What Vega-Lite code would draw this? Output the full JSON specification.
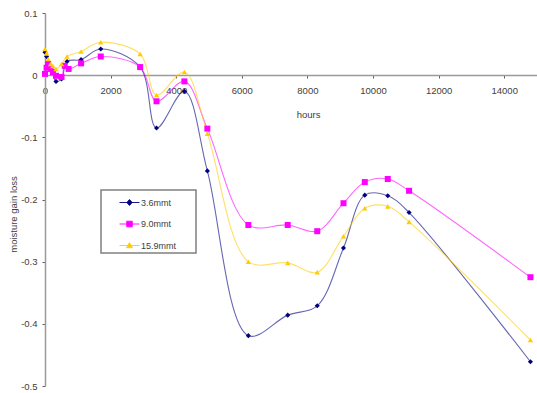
{
  "$schema": "https://vega.github.io/schema/vega-lite/v6.json",
  "width": 492,
  "height": 373,
  "autosize": {"type": "none"},
  "padding": {"left": 45, "top": 13, "right": 0, "bottom": 7},
  "background": "white",
  "config": {
    "view": {"stroke": null},
    "font": "Liberation Sans",
    "axis": {"grid": false, "labelFont": "Liberation Sans", "titleFont": "Liberation Sans", "labelColor": "#404040", "titleColor": "#404040", "labelFontSize": 9.5, "titleFontSize": 9.5, "titleFontWeight": "normal", "domainColor": "#9a9a9a", "domainWidth": 1.5, "tickColor": "#606060", "tickSize": 3, "tickWidth": 1}
  },
  "data": {
    "values": [
      {"series": "3.6mmt", "hours": 0, "gain": 0.037},
      {"series": "3.6mmt", "hours": 48, "gain": 0.030},
      {"series": "3.6mmt", "hours": 96, "gain": 0.021},
      {"series": "3.6mmt", "hours": 168, "gain": 0.012},
      {"series": "3.6mmt", "hours": 240, "gain": 0.004},
      {"series": "3.6mmt", "hours": 336, "gain": -0.010},
      {"series": "3.6mmt", "hours": 504, "gain": -0.006},
      {"series": "3.6mmt", "hours": 672, "gain": 0.022},
      {"series": "3.6mmt", "hours": 1100, "gain": 0.025},
      {"series": "3.6mmt", "hours": 1700, "gain": 0.042},
      {"series": "3.6mmt", "hours": 2900, "gain": 0.013},
      {"series": "3.6mmt", "hours": 3400, "gain": -0.085},
      {"series": "3.6mmt", "hours": 4250, "gain": -0.026},
      {"series": "3.6mmt", "hours": 4950, "gain": -0.154},
      {"series": "3.6mmt", "hours": 6200, "gain": -0.419},
      {"series": "3.6mmt", "hours": 7400, "gain": -0.386},
      {"series": "3.6mmt", "hours": 8300, "gain": -0.371},
      {"series": "3.6mmt", "hours": 9100, "gain": -0.278},
      {"series": "3.6mmt", "hours": 9750, "gain": -0.193},
      {"series": "3.6mmt", "hours": 10450, "gain": -0.194},
      {"series": "3.6mmt", "hours": 11100, "gain": -0.221},
      {"series": "3.6mmt", "hours": 14800, "gain": -0.461},
      {"series": "9.0mmt", "hours": 0, "gain": 0.002},
      {"series": "9.0mmt", "hours": 48, "gain": 0.012},
      {"series": "9.0mmt", "hours": 96, "gain": 0.018},
      {"series": "9.0mmt", "hours": 168, "gain": 0.010},
      {"series": "9.0mmt", "hours": 240, "gain": 0.005},
      {"series": "9.0mmt", "hours": 336, "gain": -0.001},
      {"series": "9.0mmt", "hours": 504, "gain": -0.003},
      {"series": "9.0mmt", "hours": 600, "gain": 0.015},
      {"series": "9.0mmt", "hours": 720, "gain": 0.010},
      {"series": "9.0mmt", "hours": 1100, "gain": 0.019},
      {"series": "9.0mmt", "hours": 1700, "gain": 0.030},
      {"series": "9.0mmt", "hours": 2900, "gain": 0.013},
      {"series": "9.0mmt", "hours": 3400, "gain": -0.042},
      {"series": "9.0mmt", "hours": 4250, "gain": -0.010},
      {"series": "9.0mmt", "hours": 4950, "gain": -0.086},
      {"series": "9.0mmt", "hours": 6200, "gain": -0.241},
      {"series": "9.0mmt", "hours": 7400, "gain": -0.241},
      {"series": "9.0mmt", "hours": 8300, "gain": -0.251},
      {"series": "9.0mmt", "hours": 9100, "gain": -0.206},
      {"series": "9.0mmt", "hours": 9750, "gain": -0.172},
      {"series": "9.0mmt", "hours": 10450, "gain": -0.167},
      {"series": "9.0mmt", "hours": 11100, "gain": -0.186},
      {"series": "9.0mmt", "hours": 14800, "gain": -0.325},
      {"series": "15.9mmt", "hours": 0, "gain": 0.042},
      {"series": "15.9mmt", "hours": 48, "gain": 0.035},
      {"series": "15.9mmt", "hours": 96, "gain": 0.026},
      {"series": "15.9mmt", "hours": 168, "gain": 0.018},
      {"series": "15.9mmt", "hours": 240, "gain": 0.015},
      {"series": "15.9mmt", "hours": 336, "gain": 0.010},
      {"series": "15.9mmt", "hours": 504, "gain": 0.018},
      {"series": "15.9mmt", "hours": 672, "gain": 0.030},
      {"series": "15.9mmt", "hours": 1100, "gain": 0.038},
      {"series": "15.9mmt", "hours": 1700, "gain": 0.053},
      {"series": "15.9mmt", "hours": 2900, "gain": 0.034},
      {"series": "15.9mmt", "hours": 3400, "gain": -0.032},
      {"series": "15.9mmt", "hours": 4250, "gain": 0.005},
      {"series": "15.9mmt", "hours": 4950, "gain": -0.094},
      {"series": "15.9mmt", "hours": 6200, "gain": -0.300},
      {"series": "15.9mmt", "hours": 7400, "gain": -0.302},
      {"series": "15.9mmt", "hours": 8300, "gain": -0.317},
      {"series": "15.9mmt", "hours": 9100, "gain": -0.259},
      {"series": "15.9mmt", "hours": 9750, "gain": -0.214},
      {"series": "15.9mmt", "hours": 10450, "gain": -0.211},
      {"series": "15.9mmt", "hours": 11100, "gain": -0.236},
      {"series": "15.9mmt", "hours": 14800, "gain": -0.426}
    ]
  },
  "encoding": {
    "x": {
      "field": "hours", "type": "quantitative",
      "scale": {"domain": [0, 15000], "nice": false, "zero": false},
      "axis": {"title": "hours", "offset": -311, "values": [0, 2000, 4000, 6000, 8000, 10000, 12000, 14000], "format": "d", "labelPadding": 7, "labelFlush": false, "titleX": 263, "titleY": 34, "titleBaseline": "top"}
    },
    "y": {
      "field": "gain", "type": "quantitative",
      "scale": {"domain": [-0.5, 0.1], "nice": false, "zero": false},
      "axis": {"title": "moisture gain loss", "values": [-0.5, -0.4, -0.3, -0.2, -0.1, 0, 0.1], "labelExpr": "datum.value == 0 ? '0' : toString(round(datum.value * 10) / 10)", "labelPadding": 5, "titleX": -32, "titleY": 201, "titleBaseline": "middle", "titleAngle": 270}
    },
    "color": {
      "field": "series", "type": "nominal",
      "scale": {"domain": ["3.6mmt", "9.0mmt", "15.9mmt"], "range": ["#000080", "#ff00ff", "#ffcc00"]},
      "legend": {
        "title": "\u00a0", "titleOrient": "right", "titlePadding": 18, "titleFontSize": 9,
        "orient": "none", "legendX": 56, "legendY": 177,
        "padding": 2, "strokeColor": "#808080", "fillColor": "white",
        "symbolSize": 400, "symbolOffset": 16, "symbolStrokeWidth": 1, "rowPadding": 5.5,
        "labelFont": "Liberation Sans", "labelFontSize": 9, "labelColor": "#404040", "labelOffset": 1,
        "encode": {
          "legend": {"update": {"strokeWidth": {"value": 1.5}}},
          "symbols": {
            "update": {
              "shape": {"signal": "datum.value === '3.6mmt' ? 'M-1,0L1,0M0,-0.3L0.26,0L0,0.3L-0.26,0Z' : datum.value === '9.0mmt' ? 'M-1,0L1,0M-0.28,-0.28L0.28,-0.28L0.28,0.28L-0.28,0.28Z' : 'M-1,0L1,0M0,-0.28L0.3,0.22L-0.3,0.22Z'"},
              "size": {"value": 400},
              "fill": {"signal": "datum.value === '3.6mmt' ? '#000080' : datum.value === '9.0mmt' ? '#ff00ff' : '#ffcc00'"},
              "stroke": {"signal": "datum.value === '3.6mmt' ? '#000080' : datum.value === '9.0mmt' ? '#ff00ff' : '#ffcc00'"},
              "opacity": {"value": 1},
              "fillOpacity": {"value": 1},
              "strokeOpacity": {"value": 0.9},
              "strokeWidth": {"value": 1}
            }
          }
        }
      }
    }
  },
  "layer": [
    {
      "mark": {"type": "line", "interpolate": "catmull-rom", "strokeWidth": 1.1, "strokeOpacity": 0.6}
    },
    {
      "transform": [{"filter": "datum.series === '3.6mmt'"}],
      "mark": {"type": "point", "shape": "diamond", "size": 26, "filled": true, "opacity": 1}
    },
    {
      "transform": [{"filter": "datum.series === '9.0mmt'"}],
      "mark": {"type": "point", "shape": "square", "size": 36, "filled": true, "opacity": 1}
    },
    {
      "transform": [{"filter": "datum.series === '15.9mmt'"}],
      "mark": {"type": "point", "shape": "triangle-up", "size": 28, "filled": true, "opacity": 1}
    }
  ]
}
